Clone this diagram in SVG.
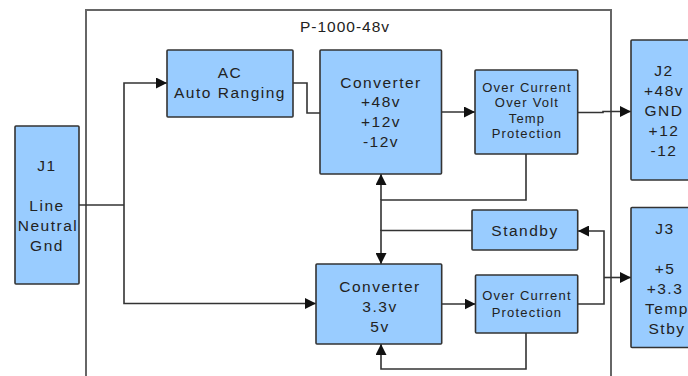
<svg xmlns="http://www.w3.org/2000/svg" width="688" height="376" viewBox="0 0 688 376">
<style>
.frame{fill:none;stroke:#666;stroke-width:2}
.box{fill:#99ccff;stroke:#333;stroke-width:1.6}
.t{font-family:"Liberation Sans",Arial,sans-serif;font-size:15.5px;letter-spacing:1.5px;fill:#222;text-anchor:middle}
.s{font-family:"Liberation Sans",Arial,sans-serif;font-size:13px;letter-spacing:1.2px;fill:#222;text-anchor:middle}
.c{fill:none;stroke:#333;stroke-width:1.6}
.a{marker-end:url(#arr)}
</style>
<defs>
<marker id="arr" markerUnits="userSpaceOnUse" markerWidth="11" markerHeight="11" refX="11" refY="5.5" orient="auto">
<path d="M0,0 L11,5.5 L0,11 z" fill="#111"/>
</marker>
</defs>
<g id="frame">
<path class="frame" d="M86,380 V10 H611 V380"/>
<text class="t" x="345" y="31.5" style="letter-spacing:1px">P-1000-48v</text>
</g>
<g id="connectors">
<path class="c" d="M79,205 H124"/>
<path class="c a" d="M124,205 V83 H167"/>
<path class="c a" d="M124,205 V303.5 H316"/>
<path class="c" d="M293,83 H307 V113 H320"/>
<path class="c a" d="M441,112 H475"/>
<path class="c a" d="M578,112.5 H603 V111.5 H631"/>
<path class="c" d="M526,154 V200 H381 V231"/>
<path class="c a" d="M381,200 V174"/>
<path class="c a" d="M472,230.5 H381 V264"/>
<path class="c a" d="M441,304 H475.5"/>
<path class="c a" d="M578,304 H604 V231 H578"/>
<path class="c a" d="M604,277.5 H631"/>
<path class="c a" d="M526,333 V369 H381 V344"/>
</g>
<g id="J1">
<rect class="box" x="15" y="126" width="64" height="158" rx="1"/>
<text class="t" x="47" y="171">J1</text>
<text class="t" x="47" y="211">Line</text>
<text class="t" x="48" y="231">Neutral</text>
<text class="t" x="47" y="251">Gnd</text>
</g>
<g id="ac">
<rect class="box" x="167" y="50" width="126" height="67" rx="1"/>
<text class="t" x="230" y="78">AC</text>
<text class="t" x="230" y="98">Auto Ranging</text>
</g>
<g id="conv1">
<rect class="box" x="320" y="50" width="121.5" height="124" rx="1"/>
<text class="t" x="381" y="87.5">Converter</text>
<text class="t" x="381" y="107">+48v</text>
<text class="t" x="381" y="127">+12v</text>
<text class="t" x="381" y="147">-12v</text>
</g>
<g id="prot1">
<rect class="box" x="475" y="70" width="102.7" height="84" rx="1"/>
<text class="s" x="527" y="91.5">Over Current</text>
<text class="s" x="527" y="107">Over Volt</text>
<text class="s" x="527" y="122.5">Temp</text>
<text class="s" x="527" y="138">Protection</text>
</g>
<g id="J2">
<rect class="box" x="631" y="40" width="66" height="140" rx="1"/>
<text class="t" x="664" y="76">J2</text>
<text class="t" x="664" y="96">+48v</text>
<text class="t" x="664" y="116">GND</text>
<text class="t" x="664" y="136">+12</text>
<text class="t" x="664" y="156">-12</text>
</g>
<g id="standby">
<rect class="box" x="472" y="210" width="105.7" height="40" rx="1"/>
<text class="t" x="525" y="235.5">Standby</text>
</g>
<g id="conv2">
<rect class="box" x="316" y="264" width="125.7" height="80" rx="1"/>
<text class="t" x="380" y="292">Converter</text>
<text class="t" x="380" y="312">3.3v</text>
<text class="t" x="380" y="332">5v</text>
</g>
<g id="prot2">
<rect class="box" x="475.5" y="275" width="102.2" height="58" rx="1"/>
<text class="s" x="527" y="300">Over Current</text>
<text class="s" x="527" y="316.5">Protection</text>
</g>
<g id="J3">
<rect class="box" x="631" y="207.5" width="66" height="140" rx="1"/>
<text class="t" x="665" y="234">J3</text>
<text class="t" x="665" y="274">+5</text>
<text class="t" x="665" y="294">+3.3</text>
<text class="t" x="667" y="314">Temp</text>
<text class="t" x="667" y="334">Stby</text>
</g>
</svg>
